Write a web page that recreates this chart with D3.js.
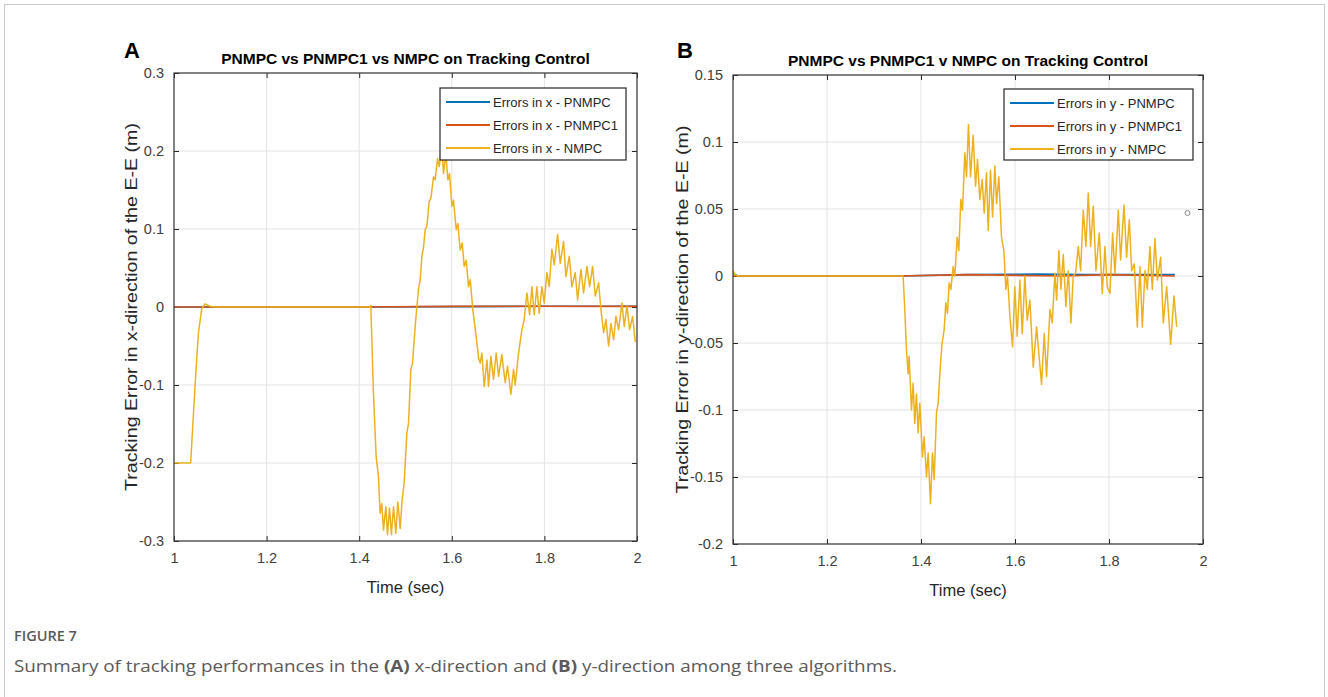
<!DOCTYPE html>
<html>
<head>
<meta charset="utf-8">
<script src="https://cdn.jsdelivr.net/npm/d3@7"></script>
<style>
  html, body { margin: 0; padding: 0; background: #ffffff; }
  svg { display: block; }
</style>
</head>
<body>
<svg id="chart" width="1328" height="697"></svg>
<script>
// ---------------- DATA ----------------
const xTicks = [1, 1.2, 1.4, 1.6, 1.8, 2];
const xTickLabels = ["1", "1.2", "1.4", "1.6", "1.8", "2"];
const yTicksA = [-0.3, -0.2, -0.1, 0, 0.1, 0.2, 0.3];
const yTickLabelsA = ["-0.3", "-0.2", "-0.1", "0", "0.1", "0.2", "0.3"];
const yTicksB = [-0.2, -0.15, -0.1, -0.05, 0, 0.05, 0.1, 0.15];
const yTickLabelsB = ["-0.2", "-0.15", "-0.1", "-0.05", "0", "0.05", "0.1", "0.15"];

const seriesNamesA = ["Errors in x - PNMPC", "Errors in x - PNMPC1", "Errors in x - NMPC"];
const seriesNamesB = ["Errors in y - PNMPC", "Errors in y - PNMPC1", "Errors in y - NMPC"];

// Panel A (x-direction) : [time, error]
const pnmpcA = [[1.0, 0.0], [1.4, 0.0], [1.6, 0.0005], [1.8, 0.001], [2.0, 0.001]];
const pnmpc1A = [[1.0, 0.0], [1.4, 0.0], [1.6, 0.0008], [1.8, 0.001], [2.0, 0.0008]];
const nmpcA = [
  [1.000,-0.200],[1.036,-0.200],[1.0454,-0.102],[1.0526,-0.034],[1.060,-0.002],[1.067,0.004],[1.078,0.001],[1.090,0.000],
  [1.423,0.000],[1.4251,0.002],[1.4308,-0.111],[1.4366,-0.192],[1.4416,-0.2175],
  [1.4452,-0.2645],[1.4488,-0.252],[1.4524,-0.286],[1.4575,-0.256],[1.4611,-0.292],[1.4654,-0.258],[1.4697,-0.292],
  [1.474,-0.256],[1.4791,-0.29],[1.4834,-0.25],[1.4885,-0.284],[1.4928,-0.247],[1.4971,-0.226],
  [1.5029,-0.162],[1.5065,-0.149],[1.5115,-0.081],[1.5151,-0.072],[1.5209,-0.025],[1.5245,0.0],[1.528,0.022],
  [1.5317,0.035],[1.5353,0.0645],[1.539,0.077],[1.5425,0.099],[1.546,0.103],[1.5512,0.135],[1.5548,0.139],
  [1.5605,0.167],[1.5641,0.163],[1.5692,0.19],[1.5728,0.18],[1.5785,0.205],[1.5821,0.171],[1.5872,0.197],
  [1.5915,0.163],[1.5951,0.171],[1.6001,0.129],[1.6037,0.137],[1.6095,0.099],[1.6131,0.107],[1.6182,0.073],
  [1.6225,0.082],[1.6268,0.052],[1.6311,0.06],[1.6362,0.026],[1.6398,0.035],[1.6455,-0.004],[1.6491,-0.021],
  [1.6527,-0.038],[1.6578,-0.065],
  [1.6613,-0.072],[1.665,-0.059],[1.670,-0.102],[1.676,-0.068],[1.6793,-0.102],[1.6844,-0.063],[1.690,-0.093],
  [1.6959,-0.059],[1.701,-0.089],[1.708,-0.061],[1.7154,-0.097],[1.7204,-0.076],[1.7276,-0.112],[1.7334,-0.08],
  [1.737,-0.1],[1.7442,-0.059],[1.7514,-0.029],[1.7564,-0.016],[1.7622,0.018],[1.768,-0.01],[1.773,0.026],
  [1.778,-0.01],[1.7838,0.026],[1.7888,-0.008],[1.7946,0.026],[1.7996,0.005],[1.8054,0.044],[1.8104,0.026],
  [1.8162,0.074],[1.8212,0.054],[1.8285,0.093],[1.8342,0.056],[1.8414,0.084],[1.8465,0.039],[1.8537,0.065],
  [1.8594,0.026],[1.8666,0.044],[1.8717,0.009],[1.8789,0.048],[1.8846,0.018],[1.8919,0.052],[1.8976,0.026],
  [1.9041,0.052],[1.9099,0.014],[1.9171,0.031],[1.9221,-0.003],[1.9279,-0.033],[1.9329,-0.016],[1.9387,-0.05],
  [1.9437,-0.021],[1.9495,-0.042],[1.9545,-0.012],[1.9603,-0.029],[1.9675,0.005],[1.9725,-0.025],[1.9783,0.001],
  [1.9841,-0.029],[1.9906,-0.012],[1.9963,-0.045]
];

// Panel B (y-direction) : [time, error]
const pnmpcB = [[1.0, 0.002], [1.01, 0.0], [1.35, 0.0], [1.5, 0.001], [1.65, 0.0015], [1.75, 0.001], [1.94, 0.001]];
const pnmpc1B = [[1.0, 0.0], [1.35, 0.0], [1.5, 0.001], [1.7, 0.0], [1.8, 0.001], [1.94, 0.0]];
const nmpcB = [
  [1.000,0.004],[1.004,0.001],[1.010,0.000],[1.362,0.000],[1.3655,-0.025],[1.369,-0.055],[1.3726,-0.073],[1.3747,-0.06],
  [1.3797,-0.1],[1.3833,-0.08],[1.3868,-0.11],[1.3904,-0.088],[1.3939,-0.117],[1.3975,-0.095],[1.4031,-0.135],
  [1.4067,-0.12],[1.4117,-0.15],[1.4152,-0.132],[1.4202,-0.17],[1.4244,-0.132],[1.428,-0.152],[1.433,-0.102],
  [1.4365,-0.095],[1.4415,-0.065],[1.445,-0.05],[1.4493,-0.04],[1.4528,-0.02],[1.4564,-0.028],[1.4599,-0.005],
  [1.4635,-0.01],[1.4684,0.007],[1.472,0.0],[1.4769,0.029],[1.4805,0.019],[1.4847,0.057],[1.4883,0.049],
  [1.4933,0.092],[1.4968,0.074],[1.501,0.113],[1.5053,0.074],[1.511,0.105],[1.516,0.067],[1.5202,0.087],
  [1.5252,0.057],[1.5302,0.072],[1.5344,0.047],[1.5394,0.077],[1.543,0.034],[1.5479,0.079],[1.5522,0.044],
  [1.5572,0.082],[1.5607,0.054],[1.5656,0.074],[1.5713,0.029],[1.5763,0.019],[1.5806,-0.01],[1.5841,0.0],
  [1.5891,-0.03],[1.5948,-0.053],[1.5997,-0.008],[1.6047,-0.045],[1.6104,-0.003],[1.6154,-0.043],[1.621,0.0],
  [1.626,-0.033],[1.6317,-0.018],[1.6388,-0.068],[1.6459,-0.038],[1.6565,-0.081],[1.6622,-0.043],[1.6672,-0.075],
  [1.6743,-0.025],[1.6792,-0.035],[1.6849,0.002],[1.6885,-0.018],[1.6934,0.019],[1.6977,-0.01],[1.7027,0.016],
  [1.7083,-0.023],[1.7133,0.004],[1.719,-0.035],[1.7239,0.0],[1.7289,0.002],[1.7346,0.022],[1.7396,0.004],
  [1.7452,0.049],[1.7509,0.022],[1.7559,0.062],[1.7609,0.022],[1.7665,0.052],[1.7722,0.004],[1.7793,0.032],
  [1.7857,-0.013],[1.7914,0.022],[1.7963,-0.008],[1.802,-0.013],[1.8077,0.032],[1.8127,0.002],[1.8198,0.049],
  [1.8247,0.012],[1.8318,0.053],[1.8375,0.014],[1.8432,0.042],[1.8482,0.004],[1.8538,0.009],[1.8602,-0.038],
  [1.8659,0.007],[1.8709,-0.038],[1.8765,0.004],[1.8815,-0.01],[1.8872,0.022],[1.8921,-0.01],[1.8978,0.028],
  [1.9028,-0.003],[1.9099,0.014],[1.9155,-0.035],[1.9227,-0.008],[1.9312,-0.051],[1.9383,-0.015],[1.944,-0.038]
];

const colors = ["#0072BD", "#D95319", "#EDB120"];

// ---------------- DRAW ----------------
const svg = d3.select("#chart");
const FONT = "'Liberation Sans', Arial, Helvetica, sans-serif";
const AX = "#262626";
const GRID = "#e3e3e3";

// outer frame
svg.append("rect").attr("x", 4.5).attr("y", 4.5).attr("width", 1320).attr("height", 720)
  .attr("fill", "none").attr("stroke", "#c8c8c8").attr("stroke-width", 1);

function panel(cfg) {
  const x = d3.scaleLinear().domain([1, 2]).range([cfg.left, cfg.right]);
  const y = d3.scaleLinear().domain(cfg.yDomain).range([cfg.bottom, cfg.top]);
  const g = svg.append("g");

  // grid
  g.selectAll(".gx").data(cfg.xTicks).enter().append("line")
    .attr("x1", d => x(d)).attr("x2", d => x(d)).attr("y1", cfg.top).attr("y2", cfg.bottom)
    .attr("stroke", GRID).attr("stroke-width", 1);
  g.selectAll(".gy").data(cfg.yTicks).enter().append("line")
    .attr("y1", d => y(d)).attr("y2", d => y(d)).attr("x1", cfg.left).attr("x2", cfg.right)
    .attr("stroke", GRID).attr("stroke-width", 1);

  // axes with inward ticks on all four sides
  const tl = 5;
  const xb = d3.axisBottom(x).tickValues(cfg.xTicks).tickFormat((d, i) => cfg.xLabels[i]).tickSizeInner(-tl).tickSizeOuter(0).tickPadding(12);
  const xt = d3.axisTop(x).tickValues(cfg.xTicks).tickFormat("").tickSizeInner(-tl).tickSizeOuter(0);
  const yl = d3.axisLeft(y).tickValues(cfg.yTicks).tickFormat((d, i) => cfg.yLabels[i]).tickSizeInner(-tl).tickSizeOuter(0).tickPadding(10);
  const yr = d3.axisRight(y).tickValues(cfg.yTicks).tickFormat("").tickSizeInner(-tl).tickSizeOuter(0);

  const gxb = g.append("g").attr("transform", `translate(0,${cfg.bottom})`).call(xb);
  const gxt = g.append("g").attr("transform", `translate(0,${cfg.top})`).call(xt);
  const gyl = g.append("g").attr("transform", `translate(${cfg.left},0)`).call(yl);
  const gyr = g.append("g").attr("transform", `translate(${cfg.right},0)`).call(yr);
  [gxb, gxt, gyl, gyr].forEach(a => {
    a.select(".domain").remove();
    a.selectAll(".tick line").attr("stroke", AX).attr("stroke-width", 1);
    a.selectAll(".tick text").attr("fill", "#404040").style("font-family", FONT).style("font-size", "14.5px");
  });

  // data lines
  const line = d3.line().x(d => x(d[0])).y(d => y(d[1]));
  cfg.series.forEach((s, i) => {
    g.append("path").datum(s).attr("d", line).attr("fill", "none")
      .attr("stroke", colors[i]).attr("stroke-width", i === 2 ? 1.5 : 1.6)
      .attr("stroke-linejoin", "round");
  });

  // box
  g.append("rect").attr("x", cfg.left).attr("y", cfg.top)
    .attr("width", cfg.right - cfg.left).attr("height", cfg.bottom - cfg.top)
    .attr("fill", "none").attr("stroke", "#3a3a3a").attr("stroke-width", 1.2);

  // legend
  const L = cfg.legend;
  g.append("rect").attr("x", L.x).attr("y", L.y).attr("width", L.w).attr("height", L.h)
    .attr("fill", "#ffffff").attr("stroke", "#262626").attr("stroke-width", 1.2);
  cfg.names.forEach((n, i) => {
    const yy = L.y + 14 + i * 23;
    g.append("line").attr("x1", L.x + 6).attr("x2", L.x + 50).attr("y1", yy).attr("y2", yy)
      .attr("stroke", colors[i]).attr("stroke-width", 1.8);
    g.append("text").attr("x", L.x + 53).attr("y", yy + 4.5).text(n)
      .attr("fill", "#262626").style("font-family", FONT).style("font-size", "13px");
  });

  // titles & labels
  svg.append("text").attr("x", (cfg.left + cfg.right) / 2).attr("y", cfg.top - 9)
    .attr("text-anchor", "middle").text(cfg.title)
    .attr("fill", "#000").style("font-family", FONT).style("font-size", "15.5px").style("font-weight", "bold");
  svg.append("text").attr("x", (cfg.left + cfg.right) / 2).attr("y", cfg.bottom + 52)
    .attr("text-anchor", "middle").text("Time (sec)")
    .attr("fill", "#262626").style("font-family", FONT).style("font-size", "16.5px");
  svg.append("text").attr("transform", `translate(${cfg.ylabX},${(cfg.top + cfg.bottom) / 2}) rotate(-90)`)
    .attr("text-anchor", "middle").text(cfg.ylabel)
    .attr("textLength", 368).attr("lengthAdjust", "spacingAndGlyphs")
    .attr("fill", "#262626").style("font-family", FONT).style("font-size", "16px");
  svg.append("text").attr("x", cfg.letterX).attr("y", 58).text(cfg.letter)
    .attr("fill", "#000").style("font-family", FONT).style("font-size", "22px").style("font-weight", "bold");
  return { x, y, g };
}

panel({
  left: 174, right: 637, top: 73, bottom: 541, yDomain: [-0.3, 0.3],
  xTicks, xLabels: xTickLabels, yTicks: yTicksA, yLabels: yTickLabelsA,
  series: [pnmpcA, pnmpc1A, nmpcA], names: seriesNamesA,
  legend: { x: 440, y: 88, w: 186, h: 72 },
  title: "PNMPC vs PNMPC1 vs NMPC on Tracking Control",
  ylabel: "Tracking Error in x-direction of the E-E (m)", ylabX: 137,
  letter: "A", letterX: 124
});

panel({
  left: 733, right: 1203, top: 75, bottom: 544, yDomain: [-0.2, 0.15],
  xTicks, xLabels: xTickLabels, yTicks: yTicksB, yLabels: yTickLabelsB,
  series: [pnmpcB, pnmpc1B, nmpcB], names: seriesNamesB,
  legend: { x: 1004, y: 89, w: 189, h: 71 },
  title: "PNMPC vs PNMPC1 v NMPC on Tracking Control",
  ylabel: "Tracking Error in y-direction of the E-E (m)", ylabX: 688,
  letter: "B", letterX: 677
});

// small stray marker seen in panel B
svg.append("circle").attr("cx", 1187.5).attr("cy", 213).attr("r", 2.5)
  .attr("fill", "none").attr("stroke", "#8a8a8a").attr("stroke-width", 1);

// caption
const cap = svg.append("g").style("font-family", "'Open Sans', 'Noto Sans', sans-serif");
cap.append("text").attr("x", 14).attr("y", 641).text("FIGURE 7")
  .attr("fill", "#5a5a5a").style("font-size", "14.5px").style("font-weight", 600);
const ct = cap.append("text").attr("x", 14).attr("y", 672).attr("fill", "#5a5a5a").style("font-size", "16.5px")
  .attr("textLength", 883).attr("lengthAdjust", "spacingAndGlyphs");
ct.append("tspan").text("Summary of tracking performances in the ");
ct.append("tspan").text("(A)").style("font-weight", 700);
ct.append("tspan").text(" x-direction and ");
ct.append("tspan").text("(B)").style("font-weight", 700);
ct.append("tspan").text(" y-direction among three algorithms.");
</script>
</body>
</html>
